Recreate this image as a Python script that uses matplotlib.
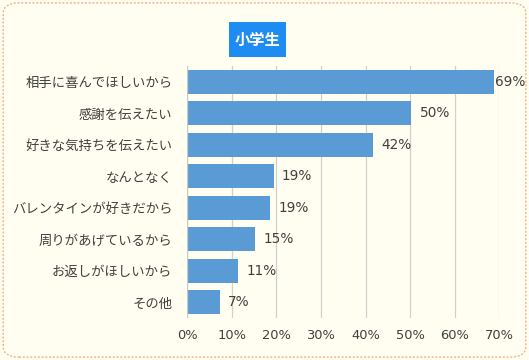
import matplotlib
matplotlib.use("Agg")
import matplotlib.pyplot as plt
from matplotlib.patches import FancyBboxPatch, Rectangle

plt.rcParams['font.family'] = ['Noto Sans CJK JP', 'DejaVu Sans']

title = "小学生"
categories = ["相手に喜んでほしいから", "感謝を伝えたい", "好きな気持ちを伝えたい", "なんとなく",
              "バレンタインが好きだから", "周りがあげているから", "お返しがほしいから", "その他"]
values = [68.7, 50.3, 41.6, 19.4, 18.6, 15.3, 11.4, 7.4]
xticks = [0, 10, 20, 30, 40, 50, 60, 70]
xticklabels = ["0%", "10%", "20%", "30%", "40%", "50%", "60%", "70%"]

bg = "#FFFEF0"
bar_color = "#5B9BD5"
text_color = "#404040"
num_font = ['DejaVu Sans']

fig = plt.figure(figsize=(5.29, 3.60), dpi=100)
fig.patch.set_facecolor(bg)

# dashed rounded border
border = FancyBboxPatch((0.006, 0.008), 0.988, 0.984, boxstyle="round,pad=0,rounding_size=0.03",
                        transform=fig.transFigure, fill=False, edgecolor="#F4B183",
                        linestyle=(0, (1.5, 1.2)), linewidth=1.0)
fig.patches.append(border)

ax = fig.add_axes([0.3535, 0.1167, 0.5905, 0.70])
ax.set_facecolor(bg)
ypos = list(range(len(categories)))
ax.barh(ypos, values, height=0.75, color=bar_color, zorder=3)
ax.set_ylim(len(categories) - 0.5, -0.5)
ax.set_xlim(0, 70)
ax.set_xticks(xticks)
ax.set_xticklabels(xticklabels, fontsize=9.4, color=text_color, family=num_font)
ax.set_yticks(ypos)
ax.set_yticklabels(categories, fontsize=9.6, color=text_color)
ax.tick_params(axis='y', length=0, pad=10.5)
ax.tick_params(axis='x', length=0, pad=8)
for s in ax.spines.values():
    s.set_visible(False)
ax.grid(axis='x', color="#D0D0D0", linewidth=0.9, zorder=0)
ax.axvline(0, color="#C8C8C8", linewidth=0.9, zorder=4)

for y, v in zip(ypos, values):
    lab = f"{round(v)}%"
    off = 1 if v > 65 else 6
    ax.annotate(lab, (v, y), xytext=(off, 0), textcoords="offset points",
                va="center", ha="left", fontsize=9.8, color=text_color, zorder=5,
                family=num_font)

# title box
fig.patches.append(Rectangle((229 / 529, 1 - 57 / 360), 57 / 529, 35 / 360,
                             transform=fig.transFigure, facecolor="#1E8CF0", edgecolor="none"))
fig.text(257.5 / 529, 1 - 39.5 / 360, title, color="white", fontsize=11, fontweight="bold",
         ha="center", va="center")

fig.savefig("out.png", dpi=100, facecolor=bg)
